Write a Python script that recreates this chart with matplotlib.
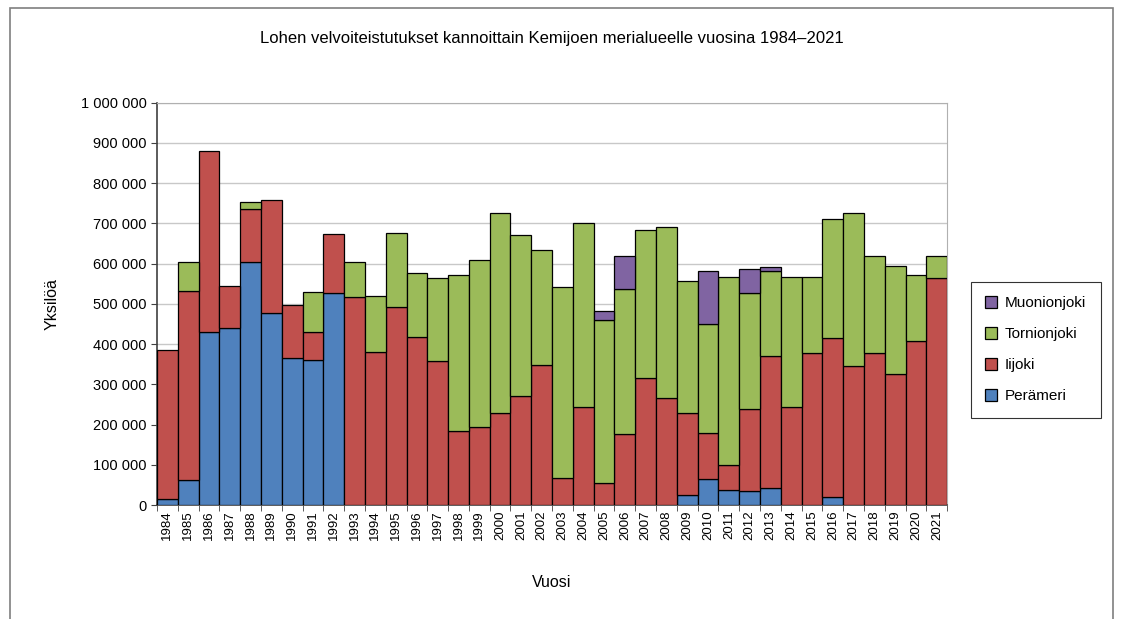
import numpy as np
import matplotlib
matplotlib.use('Agg')
from matplotlib import pyplot as plt
from matplotlib.patches import Rectangle
from matplotlib.ticker import FuncFormatter, MultipleLocator

plt.rcParams['font.family'] = ['Liberation Sans', 'DejaVu Sans']

years = list(range(1984, 2022))

# yksilöt, tuhansina
peramer = [15, 63, 430, 440, 603, 478, 366, 360, 528, 0, 0, 0, 0, 0, 0, 0, 0, 0, 0,
           0, 0, 0, 0, 0, 0, 25, 66, 38, 36, 42, 0, 0, 20, 0, 0, 0, 0, 0]
iijoki = [370, 470, 450, 105, 132, 280, 131, 70, 145, 518, 380, 493, 417, 357, 185, 195,
          230, 270, 348, 68, 243, 55, 177, 315, 267, 205, 114, 62, 204, 328, 245, 377,
          395, 345, 378, 325, 408, 565]
tornionjoki = [0, 72, 0, 0, 18, 0, 0, 100, 0, 87, 140, 184, 159, 208, 388, 415, 495, 402,
               287, 475, 457, 405, 360, 368, 423, 326, 270, 467, 287, 213, 322, 190, 297,
               380, 242, 270, 165, 55]
muonionjoki = [0, 0, 0, 0, 0, 0, 0, 0, 0, 0, 0, 0, 0, 0, 0, 0, 0, 0, 0, 0, 0, 22, 82, 0,
               0, 0, 133, 0, 60, 8, 0, 0, 0, 0, 0, 0, 0, 0]

series = [
    ('Perämeri', peramer, '#4F81BD'),
    ('Iijoki', iijoki, '#C0504D'),
    ('Tornionjoki', tornionjoki, '#9BBB59'),
    ('Muonionjoki', muonionjoki, '#8064A2'),
]

fig = plt.figure(figsize=(11.21, 6.19), dpi=100)
ax = fig.add_axes([0.140, 0.184, 0.705, 0.650])

# kehys koko kaavion ympärille
fig.patches.append(Rectangle((0.009, -0.05), 0.984, 1.037, transform=fig.transFigure,
                             fill=False, edgecolor='#7f7f7f', linewidth=1.2))

x = np.arange(len(years))
bottom = np.zeros(len(years))
handles = []
for name, vals, color in series:
    vals = np.array(vals) * 1000.0
    mask = vals > 0
    h = ax.bar(x[mask], vals[mask], width=1.0, bottom=bottom[mask], color=color,
               edgecolor='black', linewidth=0.9, label=name, zorder=3)
    handles.append(h)
    bottom += vals

ax.set_xlim(-0.5, len(years) - 0.5)
ax.set_ylim(0, 1000000)
ax.yaxis.set_major_locator(MultipleLocator(100000))
ax.yaxis.set_major_formatter(FuncFormatter(lambda v, p: f'{int(v):,}'.replace(',', ' ')))
ax.grid(axis='y', color='#c8c8c8', linewidth=1.0, zorder=0)

ax.set_xticks(x)
ax.set_xticklabels([str(y) for y in years], rotation=90, fontsize=9.5)
ax.set_xticks(np.arange(-0.5, len(years)), minor=True)
ax.tick_params(axis='x', which='major', length=0, pad=4)
ax.tick_params(axis='x', which='minor', length=4, color='#404040')
ax.tick_params(axis='y', labelsize=10.5, length=4, color='#404040')

for s in ['top', 'right']:
    ax.spines[s].set_color('#b0b0b0')
for s in ['left', 'bottom']:
    ax.spines[s].set_color('#404040')
    ax.spines[s].set_linewidth(1.2)

ax.set_title('Lohen velvoiteistutukset kannoittain Kemijoen merialueelle vuosina 1984\u20132021',
             fontsize=12, pad=43)
ax.set_ylabel('Yksilöä', fontsize=11.5, labelpad=15)
ax.set_xlabel('Vuosi', fontsize=11.5, labelpad=25)

leg = ax.legend(handles[::-1], [s[0] for s in series][::-1], loc='center left',
                bbox_to_anchor=(1.02, 0.386), frameon=True, fancybox=False,
                edgecolor='black', fontsize=11, handlelength=0.8, handleheight=0.8,
                labelspacing=1.1, borderpad=0.95, handletextpad=0.5)
leg.get_frame().set_linewidth(0.8)

fig.savefig('out.png', dpi=100, facecolor='white')
